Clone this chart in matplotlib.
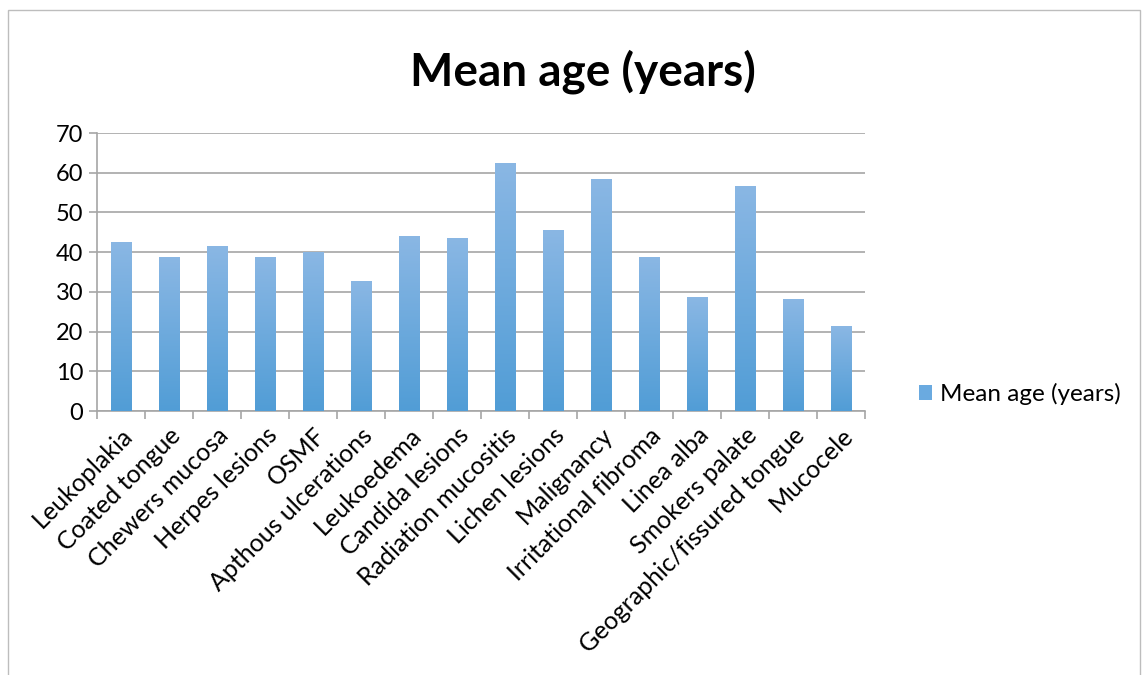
import matplotlib.pyplot as plt
import numpy as np
from matplotlib.patches import Rectangle
from matplotlib.colors import LinearSegmentedColormap

plt.rcParams['font.family'] = ['Lato', 'DejaVu Sans']

categories = ["Leukoplakia", "Coated tongue", "Chewers mucosa", "Herpes lesions", "OSMF",
              "Apthous ulcerations", "Leukoedema", "Candida lesions", "Radiation mucositis",
              "Lichen lesions", "Malignancy", "Irritational fibroma", "Linea alba",
              "Smokers palate", "Geographic/fissured tongue", "Mucocele"]
mean_age = [42.4, 38.6, 41.3, 38.6, 39.9, 32.5, 43.9, 43.4, 62.3, 45.4, 58.2, 38.6, 28.5, 56.5, 28.2, 21.2]
series_name = "Mean age (years)"

fig = plt.figure(figsize=(11.44, 6.75), dpi=100)
ax = fig.add_axes([97/1144, 1 - 411/675, 768/1144, 278/675])

x = np.arange(len(categories))
bars = ax.bar(x, mean_age, width=0.42, color='#6aaae0', label=series_name, zorder=2)

# vertical gradient inside each bar
cmap = LinearSegmentedColormap.from_list('g', ['#519dd6', '#8ab7e4'])
grad = np.linspace(0, 1, 256).reshape(-1, 1)
for b in bars:
    x0, w, h = b.get_x(), b.get_width(), b.get_height()
    ax.imshow(grad, cmap=cmap, extent=[x0, x0 + w, 0, h], origin='lower',
              aspect='auto', zorder=3)
    b.set_facecolor('none')
    b.set_edgecolor('none')

ax.set_xlim(-0.5, len(categories) - 0.5)
ax.set_ylim(0, 70)
ax.set_yticks(range(0, 71, 10))
ax.yaxis.grid(True, color='#a6a6a6', linewidth=1.2, zorder=0)
ax.set_axisbelow(True)

ax.set_xticks(x)
ax.set_xticklabels(categories, rotation=45, ha='right', rotation_mode='anchor', fontsize=18)
ax.set_xticks(np.arange(-0.5, len(categories)), minor=True)
ax.tick_params(axis='x', which='major', length=0, pad=9)
ax.tick_params(axis='x', which='minor', length=6, color='#a6a6a6', width=1.2)
ax.tick_params(axis='y', labelsize=17, length=6, color='#a6a6a6', width=1.2, pad=4)

for s in ['top', 'right']:
    ax.spines[s].set_visible(False)
for s in ['left', 'bottom']:
    ax.spines[s].set_color('#a6a6a6')
    ax.spines[s].set_linewidth(1.2)

fig.text(583/1144, 1 - 72/675, "Mean age (years)", fontsize=33, fontweight='bold',
         ha='center', va='center')

handle = Rectangle((0, 0), 1, 1, facecolor='#6aaae0')
fig.legend([handle], [series_name], loc='center left', bbox_to_anchor=(897/1144, 1 - 394/675),
           frameon=False, fontsize=17.5, handlelength=0.55, handleheight=0.55, handletextpad=0.3)

fig.patches.append(Rectangle((8/1144, -0.05), (1140 - 8)/1144, 1.05 - 10/675,
                             transform=fig.transFigure, fill=False, edgecolor='#bdbdbd',
                             linewidth=1.0))

fig.savefig('out.png', dpi=100)
